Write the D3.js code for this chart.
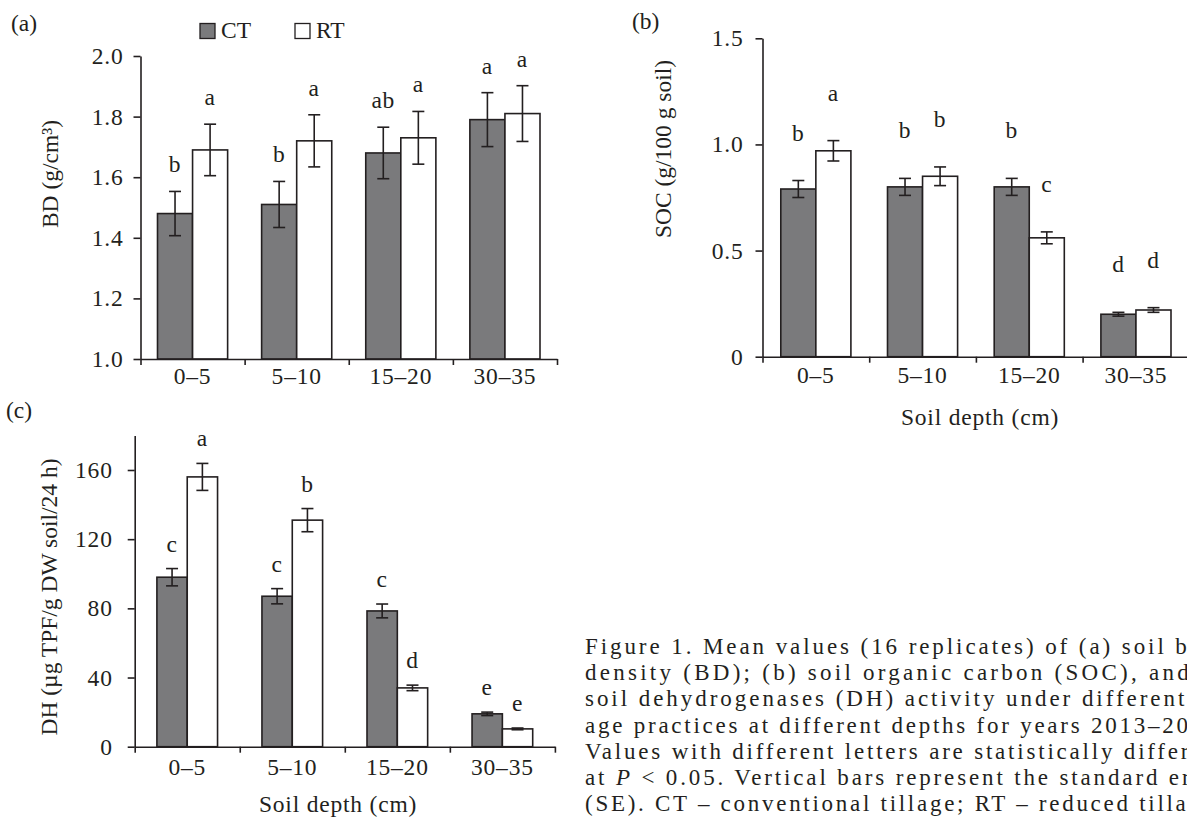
<!DOCTYPE html>
<html>
<head>
<meta charset="utf-8">
<script src="https://cdn.jsdelivr.net/npm/d3@7"></script>
<style>
  html, body { margin: 0; padding: 0; background: #fff; overflow: hidden; }
  svg text { font-family: "Liberation Serif", "Times New Roman", serif; fill: #231f20; }
  .chart-text { letter-spacing: 0.8px; }
</style>
</head>
<body>
<div id="chart"></div>
<script>
// Soil depth categories and tillage treatments
const depths = ["0–5", "5–10", "15–20", "30–35"];
const treatments = ["CT", "RT"];

// (a) bulk density, g/cm3
const bdCT = [1.48, 1.51, 1.68, 1.79];
const bdRT = [1.69, 1.72, 1.73, 1.81];
const bdCTse = [0.073, 0.076, 0.085, 0.089];
const bdRTse = [0.085, 0.086, 0.087, 0.092];
const bdCTletters = ["b", "b", "ab", "a"];
const bdRTletters = ["a", "a", "a", "a"];
const bdTicks = [1.0, 1.2, 1.4, 1.6, 1.8, 2.0];

// (b) soil organic carbon, g/100 g soil
const socCT = [0.79, 0.80, 0.80, 0.20];
const socRT = [0.97, 0.85, 0.56, 0.22];
const socCTse = [0.04, 0.04, 0.04, 0.009];
const socRTse = [0.048, 0.044, 0.028, 0.011];
const socCTletters = ["b", "b", "b", "d"];
const socRTletters = ["a", "b", "c", "d"];
const socTicks = [0, 0.5, 1.0, 1.5];

// (c) dehydrogenase activity
const dhCT = [98, 87, 78.5, 19];
const dhRT = [156, 131, 34, 10.3];
const dhCTse = [5, 4.4, 4, 1];
const dhRTse = [7.8, 6.7, 1.6, 0.5];
const dhCTletters = ["c", "c", "c", "e"];
const dhRTletters = ["a", "b", "d", "e"];
const dhTicks = [0, 40, 80, 120, 160];

// caption, *P* is set in italics
const captionLines = [
    "Figure 1. Mean values (16 replicates) of (a) soil bulk",
    "density (BD); (b) soil organic carbon (SOC), and (c)",
    "soil dehydrogenases (DH) activity under different till-",
    "age practices at different depths for years 2013–2015.",
    "Values with different letters are statistically different",
    "at *P* < 0.05. Vertical bars represent the standard error",
    "(SE). CT – conventional tillage; RT – reduced tillage"
];
// justified line lengths of the caption column
const captionWidths = [640, 648, 656, 640, 640, 640, 628];

const W = 1187, H = 823;
const ink = "#231f20";
const fills = { CT: "#7a7a7c", RT: "#ffffff" };
const fontSize = 23.5;

const svg = d3.select("#chart").append("svg")
    .attr("width", W)
    .attr("height", H);

function drawPanel(p) {
    const g = svg.append("g").attr("class", "chart-text");

    const y = d3.scaleLinear().domain(p.domain).range([p.yBottom, p.yTop]);
    const xEdge = d3.scaleLinear().domain([0, depths.length]).range([p.xLeft, p.xRight]);
    const x0 = d3.scaleBand().domain(depths).range([p.xLeft, p.xRight]);
    const x1 = d3.scaleBand().domain(treatments).range([p.barPad, x0.bandwidth() - p.barPad]);

    const rows = [];
    depths.forEach((d, i) => {
        treatments.forEach(t => {
            rows.push({
                depth: d,
                tr: t,
                value: p.values[t][i],
                se: p.se[t][i],
                letter: p.letters[t][i]
            });
        });
    });

    const cx = d => x0(d.depth) + x1(d.tr) + x1.bandwidth() / 2;

    // bars
    g.selectAll(".bar")
        .data(rows)
        .join("rect")
        .attr("x", d => x0(d.depth) + x1(d.tr))
        .attr("y", d => y(d.value))
        .attr("width", x1.bandwidth())
        .attr("height", d => y(p.domain[0]) - y(d.value))
        .attr("fill", d => fills[d.tr])
        .attr("stroke", ink)
        .attr("stroke-width", 1.6);

    // error bars
    const err = g.selectAll(".err")
        .data(rows)
        .join("g")
        .attr("stroke", ink)
        .attr("stroke-width", 1.6);
    err.append("line")
        .attr("x1", cx).attr("x2", cx)
        .attr("y1", d => y(d.value + d.se))
        .attr("y2", d => y(d.value - d.se));
    err.append("line")
        .attr("x1", d => cx(d) - 6).attr("x2", d => cx(d) + 6)
        .attr("y1", d => y(d.value + d.se))
        .attr("y2", d => y(d.value + d.se));
    err.append("line")
        .attr("x1", d => cx(d) - 6).attr("x2", d => cx(d) + 6)
        .attr("y1", d => y(d.value - d.se))
        .attr("y2", d => y(d.value - d.se));

    // significance letters
    g.selectAll(".letter")
        .data(rows)
        .join("text")
        .attr("x", cx)
        .attr("y", d => y(d.value + d.se) - p.letterGap)
        .attr("text-anchor", "middle")
        .attr("font-size", fontSize)
        .text(d => d.letter);

    // y axis
    const yAxis = g.append("g")
        .attr("transform", `translate(${p.xLeft},0)`)
        .call(d3.axisLeft(y)
            .tickValues(p.ticks)
            .tickFormat(p.fmt)
            .tickSize(7)
            .tickSizeOuter(0)
            .tickPadding(p.tickPad));

    // x axis, ticks on the category edges
    const xAxis = g.append("g")
        .attr("transform", `translate(0,${p.yBottom})`)
        .call(d3.axisBottom(xEdge)
            .tickValues(d3.range(depths.length + 1))
            .tickFormat("")
            .tickSize(6)
            .tickSizeOuter(0));

    [yAxis, xAxis].forEach(a => {
        a.attr("font-size", fontSize).attr("font-family", null);
        a.select(".domain").attr("stroke", ink).attr("stroke-width", 1.6);
        a.selectAll(".tick line").attr("stroke", ink).attr("stroke-width", 1.6);
        a.selectAll(".tick text").attr("fill", ink);
    });

    g.selectAll(".xlab")
        .data(depths)
        .join("text")
        .attr("x", d => x0(d) + x0.bandwidth() / 2)
        .attr("y", p.yBottom + p.labelDrop)
        .attr("text-anchor", "middle")
        .attr("font-size", fontSize)
        .text(d => d);

    // y title
    g.append("text")
        .attr("transform", `translate(${p.titleX},${p.titleY}) rotate(-90)`)
        .attr("text-anchor", "middle")
        .attr("font-size", fontSize)
        .style("letter-spacing", "0px")
        .text(p.title);

    if (p.xTitle) {
        g.append("text")
            .attr("x", p.xTitle[0])
            .attr("y", p.xTitle[1])
            .attr("text-anchor", "middle")
            .attr("font-size", fontSize)
            .text("Soil depth (cm)");
    }

    svg.append("text")
        .attr("x", p.tag[0])
        .attr("y", p.tag[1])
        .attr("font-size", fontSize)
        .text(p.tagText);
}

drawPanel({
    tagText: "(a)", tag: [11, 31],
    values: { CT: bdCT, RT: bdRT },
    se: { CT: bdCTse, RT: bdRTse },
    letters: { CT: bdCTletters, RT: bdRTletters },
    domain: [1, 2], ticks: bdTicks, fmt: d3.format(".1f"),
    xLeft: 140.5, xRight: 557, yTop: 56, yBottom: 359,
    barPad: 17, letterGap: 19, tickPad: 10, labelDrop: 25,
    title: "BD (g/cm³)", titleX: 58, titleY: 174
});

drawPanel({
    tagText: "(b)", tag: [632, 29],
    values: { CT: socCT, RT: socRT },
    se: { CT: socCTse, RT: socRTse },
    letters: { CT: socCTletters, RT: socRTletters },
    domain: [0, 1.5], ticks: socTicks, fmt: d => d === 0 ? "0" : d3.format(".1f")(d),
    xLeft: 762.5, xRight: 1189.3, yTop: 38.3, yBottom: 356.7,
    barPad: 18.3, letterGap: 40, tickPad: 12, labelDrop: 26,
    title: "SOC (g/100 g soil)", titleX: 671, titleY: 149,
    xTitle: [980, 425]
});

drawPanel({
    tagText: "(c)", tag: [6, 418],
    values: { CT: dhCT, RT: dhRT },
    se: { CT: dhCTse, RT: dhRTse },
    letters: { CT: dhCTletters, RT: dhRTletters },
    domain: [0, 180], ticks: dhTicks, fmt: d3.format("d"),
    xLeft: 134.7, xRight: 554.9, yTop: 435.4, yBottom: 746.7,
    barPad: 22.2, letterGap: 17, tickPad: 15, labelDrop: 28,
    title: "DH (µg TPF/g DW soil/24 h)", titleX: 57, titleY: 597,
    xTitle: [338, 812]
});

// legend of panel (a)
const legend = svg.append("g").attr("transform", "translate(200,23.5)");
treatments.forEach((t, i) => {
    const row = legend.append("g").attr("transform", `translate(${i * 95},0)`);
    row.append("rect")
        .attr("width", 15).attr("height", 15)
        .attr("fill", fills[t])
        .attr("stroke", ink)
        .attr("stroke-width", 1.3);
    row.append("text")
        .attr("x", 21).attr("y", 14)
        .attr("font-size", fontSize)
        .text(t);
});

// caption, justified lines run past the right edge of the picture
const cap = svg.append("g").attr("font-size", 23);
captionLines.forEach((line, i) => {
    const txt = cap.append("text")
        .attr("x", 585)
        .attr("y", 654 + i * 26.2)
        .attr("textLength", captionWidths[i])
        .attr("lengthAdjust", "spacing");
    line.split("*").forEach((part, k) => {
        txt.append("tspan")
            .attr("font-style", k % 2 === 1 ? "italic" : null)
            .text(part);
    });
});
</script>
</body>
</html>
